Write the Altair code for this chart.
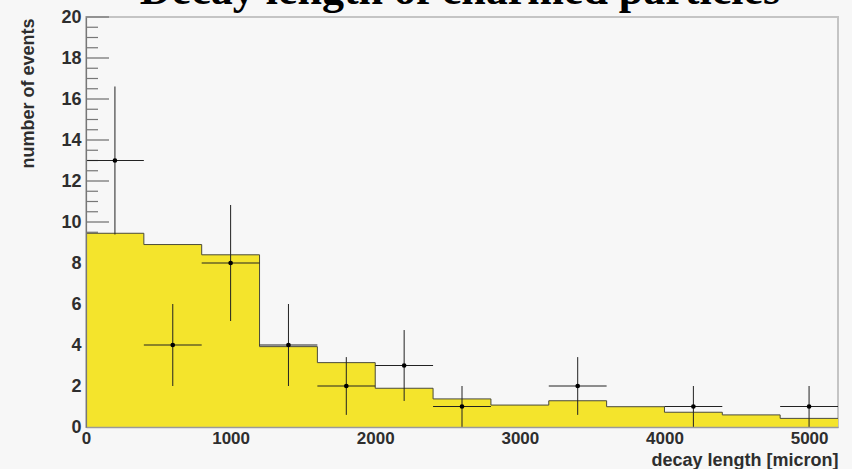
import altair as alt
import pandas as pd

# Simulated decay-length distribution (yellow histogram), 400 micron bins
bin_edges = [0, 400, 800, 1200, 1600, 2000, 2400, 2800, 3200, 3600, 4000, 4400, 4800, 5200]
sim_height = [9.45, 8.9, 8.4, 3.92, 3.14, 1.89, 1.37, 1.07, 1.28, 0.99, 0.72, 0.59, 0.42]

# Observed events with statistical errors (bins with zero events are not drawn)
obs_center = [200, 600, 1000, 1400, 1800, 2200, 2600, 3400, 4200, 5000]
obs_count = [13, 4, 8, 4, 2, 3, 1, 2, 1, 1]
obs_err = [3.61, 2.0, 2.83, 2.0, 1.41, 1.73, 1.0, 1.41, 1.0, 1.0]

# Axis tick values
x_labels = [0, 1000, 2000, 3000, 4000, 5000]
y_major = [0, 2, 4, 6, 8, 10, 12, 14, 16, 18, 20]
y_minor = [0.5, 1, 1.5, 2.5, 3, 3.5, 4.5, 5, 5.5, 6.5, 7, 7.5, 8.5, 9, 9.5,
           10.5, 11, 11.5, 12.5, 13, 13.5, 14.5, 15, 15.5, 16.5, 17, 17.5,
           18.5, 19, 19.5]

half_bin = (bin_edges[1] - bin_edges[0]) / 2

hist = pd.DataFrame({"x": bin_edges, "h": sim_height + [sim_height[-1]]})
obs = pd.DataFrame({"c": obs_center, "n": obs_count, "e": obs_err})
obs["xlo"] = obs["c"] - half_bin
obs["xhi"] = obs["c"] + half_bin
obs["ylo"] = obs["n"] - obs["e"]
obs["yhi"] = obs["n"] + obs["e"]

xscale = alt.Scale(domain=[0, 5200], nice=False, zero=False)
yscale = alt.Scale(domain=[0, 20], nice=False)

LABEL_FONT = "Liberation Sans"
AXIS_GREY = "#777777"
TEXT_GREY = "#2e2e2e"

x_axis = alt.Axis(
    values=x_labels, format="d", ticks=False, grid=False,
    domainColor="#9a9a9a", domainWidth=1.5,
    labelFont=LABEL_FONT, labelFontWeight="bold", labelFontSize=17,
    labelColor=TEXT_GREY, labelPadding=3,
    labelFlush=False, labelOverlap=False,
    title="decay length [micron]", titleFont=LABEL_FONT,
    titleFontWeight="bold", titleFontSize=18, titleColor=TEXT_GREY,
    titleAlign="right", titleBaseline="alphabetic", titleX=752, titleY=38,
    zindex=1,
)
y_axis = alt.Axis(
    values=y_major, format="d", ticks=False, grid=False,
    domainColor=AXIS_GREY, domainWidth=1.2,
    labelFont=LABEL_FONT, labelFontWeight="bold", labelFontSize=18,
    labelColor=TEXT_GREY, labelPadding=5,
    labelFlush=False, labelOverlap=False,
    title="number of events", titleFont=LABEL_FONT, titleFontWeight="bold",
    titleFontSize=18, titleColor=TEXT_GREY, titleAngle=270,
    titleAlign="right", titleBaseline="alphabetic", titleX=-53, titleY=1,
    zindex=1,
)


def X(field):
    return alt.X(field, scale=xscale, axis=x_axis)


def Y(field):
    return alt.Y(field, scale=yscale, axis=y_axis)


# Inward-pointing ticks on the y axis (ROOT style)
major_ticks = alt.Chart(pd.DataFrame({"v": y_major})).mark_rule(
    color=AXIS_GREY, strokeWidth=1.3
).encode(y=Y("v:Q"), x=alt.value(0), x2=alt.value(23))
minor_ticks = alt.Chart(pd.DataFrame({"v": y_minor})).mark_rule(
    color=AXIS_GREY, strokeWidth=1.2
).encode(y=Y("v:Q"), x=alt.value(0), x2=alt.value(12))

fill = alt.Chart(hist).mark_area(
    interpolate="step-after", color="#f4e42c", opacity=1
).encode(x=X("x:Q"), y=Y("h:Q"))
outline = alt.Chart(hist).mark_line(
    interpolate="step-after", color="#4a4a3a", strokeWidth=1
).encode(x=X("x:Q"), y=Y("h:Q"))

xerr = alt.Chart(obs).mark_rule(color="#222222", strokeWidth=1).encode(
    x=X("xlo:Q"), x2="xhi:Q", y=Y("n:Q"),
)
yerr = alt.Chart(obs).mark_rule(color="#222222", strokeWidth=1).encode(
    x=X("c:Q"), y=Y("ylo:Q"), y2="yhi:Q",
)
points = alt.Chart(obs).mark_circle(color="#000000", size=22, opacity=1).encode(
    x=X("c:Q"), y=Y("n:Q"),
)

title = alt.Chart(pd.DataFrame({"t": ["Decay length of charmed particles"]})).mark_text(
    font="Liberation Serif", fontSize=44, fontWeight="bold", color="#000000",
    align="center", baseline="alphabetic",
).encode(text="t:N", x=alt.value(374), y=alt.value(-13))

chart = alt.layer(
    major_ticks, minor_ticks, fill, outline, xerr, yerr, points, title
).properties(
    width=752, height=410,
    padding={"left": 86, "top": 17, "right": 14, "bottom": 42},
    autosize=alt.AutoSizeParams(type="none"),
    background="#f7f7f7",
).configure_view(
    stroke="#c4c4c4", strokeWidth=2, fill="#f7f7f7"
)

chart.save("out.html", embed_options={"renderer": "svg", "actions": False})
